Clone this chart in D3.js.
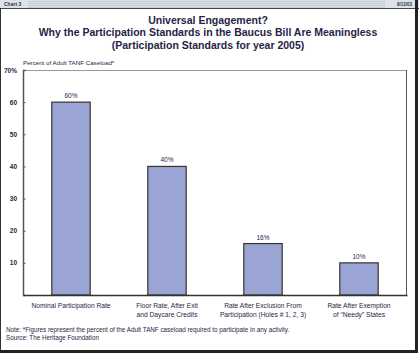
<!DOCTYPE html>
<html><head><meta charset="utf-8">
<script src="https://cdn.jsdelivr.net/npm/d3@7"></script>
<style>
html,body{margin:0;padding:0;background:#fff;}
svg{display:block;}
text{font-family:"Liberation Sans Narrow","Liberation Sans",Arial,sans-serif;}
</style></head>
<body>
<svg id="chart" width="419" height="356"></svg>
<script>
const categories = [
  ["Nominal Participation Rate"],
  ["Floor Rate, After Exit", "and Daycare Credits"],
  ["Rate After Exclusion From", "Participation (Holes # 1, 2, 3)"],
  ["Rate After Exemption", "of \u201cNeedy\u201d States"]
];
const values = [60, 40, 16, 10];
const yTicks = [10, 20, 30, 40, 50, 60, 70];
const titleLines = [
  "Universal Engagement?",
  "Why the Participation Standards in the Baucus Bill Are Meaningless",
  "(Participation Standards for year 2005)"
];
const axisTitle = "Percent of Adult TANF Caseload*";
const notes = [
  "Note: *Figures represent the percent of the Adult TANF caseload required to participate in any activity.",
  "Source: The Heritage Foundation"
];

const svg = d3.select("#chart");
const W = 419, H = 356;
const navy = "#1f2546";

// top strip
svg.append("rect").attr("x",0).attr("y",0).attr("width",W).attr("height",8).attr("fill","#dde1ea");
for (let y=1; y<8; y+=2) svg.append("line").attr("x1",28).attr("x2",385).attr("y1",y+0.5).attr("y2",y+0.5).attr("stroke","#c4c9d6").attr("stroke-width",1);
svg.append("text").attr("x",4).attr("y",6).attr("font-size",5).attr("font-weight","bold").attr("fill","#333").text("Chart 3");
svg.append("text").attr("x",412).attr("y",6).attr("text-anchor","end").attr("font-size",4.5).attr("font-weight","bold").attr("fill","#333").text("8/13/03");
svg.append("line").attr("x1",0).attr("x2",W).attr("y1",8.5).attr("y2",8.5).attr("stroke","#444").attr("stroke-width",1);
// frame
svg.append("line").attr("x1",0.5).attr("x2",0.5).attr("y1",8).attr("y2",352).attr("stroke","#333").attr("stroke-width",1);
svg.append("rect").attr("x",415).attr("y",0).attr("width",3).attr("height",353).attr("fill","#222");
svg.append("rect").attr("x",0).attr("y",350).attr("width",418).attr("height",3).attr("fill","#222");

// title
titleLines.forEach((t,i)=>{
  svg.append("text").attr("x",208).attr("y",24+i*12.3).attr("text-anchor","middle")
    .attr("font-size",10.5).attr("font-weight","bold").attr("fill",navy).text(t);
});

const m = {left:23, right:407, top:70, bottom:295};
const x = d3.scaleBand().domain(d3.range(values.length)).range([m.left,m.right]).paddingInner(0.6).paddingOuter(0.3);
const y = d3.scaleLinear().domain([0,70]).range([m.bottom,m.top]);

// plot frame
svg.append("line").attr("x1",m.left).attr("x2",m.right).attr("y1",m.top+0.5).attr("y2",m.top+0.5).attr("stroke","#999");
svg.append("line").attr("x1",m.right-0.5).attr("x2",m.right-0.5).attr("y1",m.top).attr("y2",m.bottom).attr("stroke","#555");

// bars
svg.selectAll("rect.bar").data(values).enter().append("rect").attr("class","bar")
  .attr("x",(d,i)=>x(i)).attr("width",x.bandwidth())
  .attr("y",d=>y(d)).attr("height",d=>y(0)-y(d))
  .attr("fill","#9aa5d3").attr("stroke","#333").attr("stroke-width",1.2);

svg.selectAll("text.val").data(values).enter().append("text").attr("class","val")
  .attr("x",(d,i)=>x(i)+x.bandwidth()/2).attr("y",d=>y(d)-4).attr("text-anchor","middle")
  .attr("font-size",6.5).attr("fill",navy).text(d=>d+"%");

// y axis
const yAxis = d3.axisLeft(y).tickValues(yTicks).tickSize(-2.5).tickPadding(6)
  .tickFormat(d=> d===70 ? "70%" : d);
const ga = svg.append("g").attr("transform",`translate(${m.left},0)`).call(yAxis);
ga.select(".domain").attr("stroke","#555").attr("stroke-width",1.5);
ga.selectAll(".tick line").attr("stroke","#555");
ga.selectAll(".tick text").attr("font-size",6.5).attr("font-weight","bold").attr("fill",navy)
  .attr("font-family",'"Liberation Sans Narrow","Liberation Sans",Arial,sans-serif');

// x axis
const xAxis = d3.axisBottom(x).tickSize(0).tickFormat("");
const gx = svg.append("g").attr("transform",`translate(0,${m.bottom})`).call(xAxis);
gx.select(".domain").attr("stroke","#333").attr("stroke-width",1.5);
categories.forEach((lines,i)=>{
  lines.forEach((l,j)=>{
    svg.append("text").attr("x",x(i)+x.bandwidth()/2).attr("y",m.bottom+12.5+j*9).attr("text-anchor","middle")
      .attr("font-size",6.7).attr("fill",navy).text(l);
  });
});

svg.append("text").attr("x",m.left).attr("y",65).attr("font-size",6.2).attr("fill",navy).text(axisTitle);
notes.forEach((t,i)=>{
  svg.append("text").attr("x",6).attr("y",332+i*8).attr("font-size",6.3).attr("fill",navy).text(t);
});
</script>
</body></html>
